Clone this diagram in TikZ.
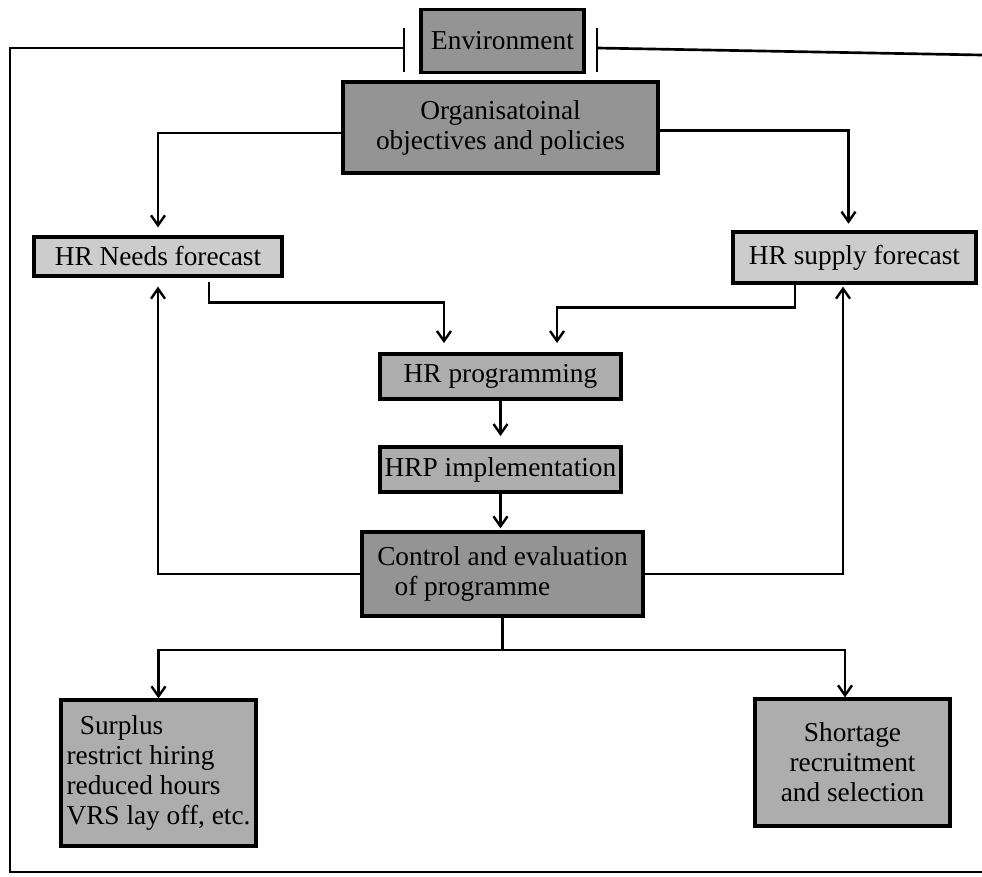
\documentclass[tikz,border=0pt]{standalone}
\usepackage{fontspec}
\setmainfont{Liberation Serif}
\usetikzlibrary{arrows.meta}
\begin{document}
\begin{tikzpicture}[x=0.75pt,y=-0.75pt,
  box/.style={draw=black, line width=2.4pt, inner sep=0pt,
    font=\fontsize{20.5}{22.5}\selectfont, align=center},
  dark/.style={box, fill=black!42},
  mid/.style={box, fill=black!32},
  light/.style={box, fill=black!20},
  conn/.style={line width=2pt},
  arr/.style={conn, -{Straight Barb[length=7.5pt,width=10.5pt,line width=1.8pt]}},
]
\useasboundingbox (0,0) rectangle (982,876);

% boxes
\node[dark, minimum width=122.25pt, minimum height=47.25pt] (env) at (502.5,41) {Environment};
\node[dark, minimum width=236.25pt, minimum height=68.25pt] (org) at (500.5,127.5) {Organisatoinal\\objectives and policies};
\node[light, minimum width=186pt, minimum height=29.25pt] (needs) at (158,256.5) {HR Needs forecast};
\node[light, minimum width=182.25pt, minimum height=38.25pt] (supply) at (854.5,257.5) {HR supply forecast};
\node[mid, minimum width=180.75pt, minimum height=33.75pt] (prog) at (500.5,376.5) {HR programming};
\node[mid, minimum width=180.75pt, minimum height=33.75pt] (impl) at (500.5,469.5) {HRP implementation};
\node[dark, minimum width=210.75pt, minimum height=63pt, align=left] (ctrl) at (502.5,574) {Control and evaluation\\\hspace{13pt}of programme};
\node[mid, minimum width=146.25pt, minimum height=109.5pt, align=left] (surplus) at (158.5,773) {\hspace{10pt}Surplus\\restrict hiring\\reduced hours\\VRS lay off, etc.};
\node[mid, minimum width=146.25pt, minimum height=95.25pt] (shortage) at (852.5,762.5) {Shortage\\recruitment\\and selection};

% environment frame
\coordinate (tl) at (404,48);
\coordinate (tlt) at (404,28);
\coordinate (tlb) at (404,72);
\coordinate (tr) at (597,48);
\coordinate (trt) at (597,28);
\coordinate (trb) at (597,72);
\coordinate (ftl) at (10,48);
\coordinate (fbl) at (10,872);
\coordinate (fbr) at (982,872);
\coordinate (fre) at (982,55);
\draw[conn] (tl) -- (ftl) -- (fbl) -- (fbr);
\draw[conn] (tr) -- (fre);
\draw[conn] (tlt) -- (tlb);
\draw[conn] (trt) -- (trb);

% organisation to forecasts
\draw[arr, shorten >=6pt] ([yshift=-4pt]org.west) -| (needs.north);
\draw[arr, shorten >=5pt] ([yshift=-2pt]org.east) -| ([xshift=-4.5pt]supply.north);

% forecasts to programming
\draw[arr, shorten <=3pt, shorten >=7pt] ([xshift=38.25pt]needs.south) -- ++(0,25) -| ([xshift=-42.4pt]prog.north);
\draw[arr, shorten >=7pt] ([xshift=-44.6pt]supply.south) -- ++(0,23) -| ([xshift=42.4pt]prog.north);

% chain
\draw[arr, shorten >=7pt] (prog.south) -- (impl.north);
\draw[arr, shorten >=1.5pt] (impl.south) -- (impl.south |- ctrl.north);

% feedback loops
\draw[arr, shorten >=6.75pt] (ctrl.west) -| (needs.south);
\draw[arr, shorten >=1.5pt] (ctrl.east) -| ([xshift=-8.6pt]supply.south);

% outcomes
\coordinate (split) at (502.5,650);
\draw[conn] (ctrl.south) -- (split);
\draw[arr] (split) -| (surplus.north);
\draw[arr] (split) -| ([xshift=-5.6pt]shortage.north);
\end{tikzpicture}
\end{document}
